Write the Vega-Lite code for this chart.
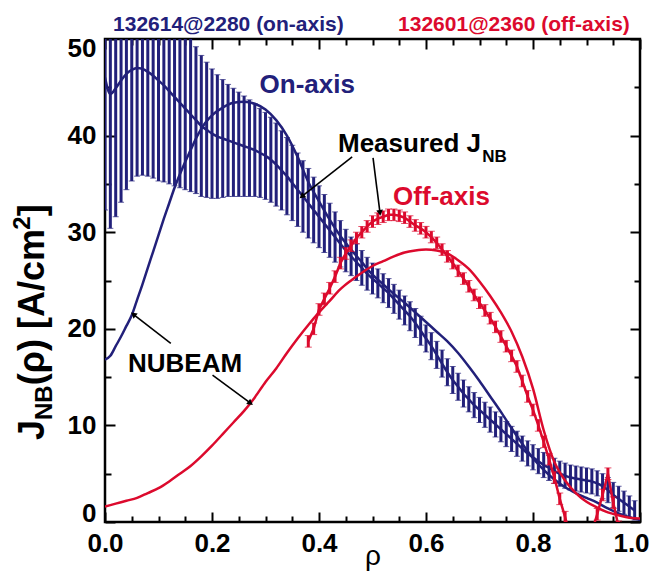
{
  "$schema": "https://vega.github.io/schema/vega-lite/v6.json",
  "width": 535,
  "height": 483,
  "autosize": {"type": "none"},
  "padding": {"left": 105, "top": 39, "right": 9, "bottom": 51},
  "background": "white",
  "config": {
    "view": {"stroke": "black", "strokeWidth": 2.5},
    "font": "Liberation Sans, Arial, sans-serif"
  },
  "datasets": {
    "blueMeas": [
      {"r":0.00,"c":46.0,"e":13.7},{"r":0.01,"c":44.3,"e":13.9},{"r":0.02,"c":44.9,"e":13.3},{"r":0.03,"c":45.7,"e":12.6},{"r":0.04,"c":46.4,"e":12.0},
      {"r":0.05,"c":46.8,"e":11.5},{"r":0.06,"c":47.0,"e":11.2},{"r":0.07,"c":46.9,"e":11.0},{"r":0.08,"c":46.6,"e":10.8},{"r":0.09,"c":46.2,"e":10.6},
      {"r":0.10,"c":45.7,"e":10.4},{"r":0.11,"c":45.2,"e":10.0},{"r":0.12,"c":44.6,"e":9.6},{"r":0.13,"c":44.0,"e":9.2},{"r":0.14,"c":43.4,"e":8.8},
      {"r":0.15,"c":42.8,"e":8.4},{"r":0.16,"c":42.2,"e":8.0},{"r":0.17,"c":41.6,"e":7.6},{"r":0.18,"c":41.0,"e":7.3},{"r":0.19,"c":40.6,"e":7.0},
      {"r":0.20,"c":40.2,"e":6.7},{"r":0.21,"c":39.9,"e":6.4},{"r":0.22,"c":39.7,"e":6.1},{"r":0.23,"c":39.5,"e":5.8},{"r":0.24,"c":39.3,"e":5.6},
      {"r":0.25,"c":39.1,"e":5.4},{"r":0.26,"c":38.9,"e":5.2},{"r":0.27,"c":38.7,"e":5.0},{"r":0.28,"c":38.5,"e":4.8},{"r":0.29,"c":38.2,"e":4.6},
      {"r":0.30,"c":37.9,"e":4.5},{"r":0.31,"c":37.5,"e":4.4},{"r":0.32,"c":37.0,"e":4.3},{"r":0.33,"c":36.4,"e":4.1},{"r":0.34,"c":35.8,"e":4.0},
      {"r":0.35,"c":35.1,"e":3.9},{"r":0.36,"c":34.4,"e":3.8},{"r":0.37,"c":33.7,"e":3.7},{"r":0.38,"c":33.0,"e":3.6},{"r":0.39,"c":32.3,"e":3.4},
      {"r":0.40,"c":31.6,"e":3.2},{"r":0.41,"c":30.9,"e":3.0},{"r":0.42,"c":30.2,"e":2.8},{"r":0.43,"c":29.5,"e":2.6},{"r":0.44,"c":28.8,"e":2.4},
      {"r":0.45,"c":28.1,"e":2.2},{"r":0.46,"c":27.5,"e":2.0},{"r":0.47,"c":26.9,"e":1.9},{"r":0.48,"c":26.3,"e":1.8},{"r":0.49,"c":25.7,"e":1.7},
      {"r":0.50,"c":25.2,"e":1.6},{"r":0.51,"c":24.7,"e":1.5},{"r":0.52,"c":24.2,"e":1.5},{"r":0.53,"c":23.7,"e":1.5},{"r":0.54,"c":23.1,"e":1.5},
      {"r":0.55,"c":22.5,"e":1.5},{"r":0.56,"c":21.9,"e":1.5},{"r":0.57,"c":21.3,"e":1.5},{"r":0.58,"c":20.6,"e":1.5},{"r":0.59,"c":19.8,"e":1.5},
      {"r":0.60,"c":19.0,"e":1.4},{"r":0.61,"c":18.2,"e":1.4},{"r":0.62,"c":17.3,"e":1.4},{"r":0.63,"c":16.4,"e":1.4},{"r":0.64,"c":15.5,"e":1.4},
      {"r":0.65,"c":14.7,"e":1.4},{"r":0.66,"c":14.0,"e":1.4},{"r":0.67,"c":13.3,"e":1.4},{"r":0.68,"c":12.7,"e":1.3},{"r":0.69,"c":12.1,"e":1.3},
      {"r":0.70,"c":11.6,"e":1.3},{"r":0.71,"c":11.1,"e":1.3},{"r":0.72,"c":10.6,"e":1.3},{"r":0.73,"c":10.1,"e":1.3},{"r":0.74,"c":9.6,"e":1.3},
      {"r":0.75,"c":9.1,"e":1.3},{"r":0.76,"c":8.6,"e":1.3},{"r":0.77,"c":8.1,"e":1.3},{"r":0.78,"c":7.6,"e":1.3},{"r":0.79,"c":7.1,"e":1.3},
      {"r":0.80,"c":6.7,"e":1.3},{"r":0.81,"c":6.3,"e":1.3},{"r":0.82,"c":5.9,"e":1.3},{"r":0.83,"c":5.6,"e":1.3},{"r":0.84,"c":5.3,"e":1.3},
      {"r":0.85,"c":5.0,"e":1.3},{"r":0.86,"c":4.8,"e":1.3},{"r":0.87,"c":4.6,"e":1.3},{"r":0.88,"c":4.5,"e":1.3},{"r":0.89,"c":4.4,"e":1.3},
      {"r":0.90,"c":4.3,"e":1.3},{"r":0.91,"c":4.2,"e":1.3},{"r":0.92,"c":4.0,"e":1.3},{"r":0.93,"c":3.7,"e":1.3},{"r":0.94,"c":3.3,"e":1.3},
      {"r":0.95,"c":2.8,"e":1.3},{"r":0.96,"c":2.4,"e":1.3},{"r":0.97,"c":2.0,"e":1.2},{"r":0.98,"c":1.6,"e":1.1},{"r":0.99,"c":1.2,"e":1.0}
    ],
    "redMeas": [
      {"r":0.38,"c":18.7,"e":0.6},{"r":0.39,"c":20.0,"e":0.6},{"r":0.40,"c":22.0,"e":0.6},{"r":0.41,"c":23.1,"e":0.6},{"r":0.42,"c":24.2,"e":0.6},
      {"r":0.43,"c":25.4,"e":0.6},{"r":0.44,"c":26.8,"e":0.6},{"r":0.45,"c":27.8,"e":0.6},{"r":0.46,"c":28.6,"e":0.6},{"r":0.47,"c":29.4,"e":0.6},
      {"r":0.48,"c":30.0,"e":0.6},{"r":0.49,"c":30.6,"e":0.6},{"r":0.50,"c":31.1,"e":0.6},{"r":0.51,"c":31.4,"e":0.6},{"r":0.52,"c":31.6,"e":0.6},
      {"r":0.53,"c":31.8,"e":0.6},{"r":0.54,"c":31.8,"e":0.6},{"r":0.55,"c":31.7,"e":0.6},{"r":0.56,"c":31.5,"e":0.6},{"r":0.57,"c":31.1,"e":0.6},
      {"r":0.58,"c":30.7,"e":0.6},{"r":0.59,"c":30.4,"e":0.6},{"r":0.60,"c":30.0,"e":0.6},{"r":0.61,"c":29.5,"e":0.6},{"r":0.62,"c":28.9,"e":0.6},
      {"r":0.63,"c":28.2,"e":0.6},{"r":0.64,"c":27.5,"e":0.6},{"r":0.65,"c":26.8,"e":0.6},{"r":0.66,"c":26.0,"e":0.6},{"r":0.67,"c":25.2,"e":0.6},
      {"r":0.68,"c":24.4,"e":0.6},{"r":0.69,"c":23.5,"e":0.6},{"r":0.70,"c":22.7,"e":0.6},{"r":0.71,"c":21.9,"e":0.6},{"r":0.72,"c":21.1,"e":0.6},
      {"r":0.73,"c":20.2,"e":0.6},{"r":0.74,"c":19.2,"e":0.6},{"r":0.75,"c":18.2,"e":0.6},{"r":0.76,"c":17.2,"e":0.6},{"r":0.77,"c":16.1,"e":0.6},
      {"r":0.78,"c":14.6,"e":0.6},{"r":0.79,"c":13.0,"e":0.6},{"r":0.80,"c":11.6,"e":0.6},{"r":0.81,"c":10.0,"e":0.6},{"r":0.82,"c":8.3,"e":0.6},
      {"r":0.83,"c":6.5,"e":0.6},{"r":0.84,"c":4.6,"e":0.6},{"r":0.85,"c":2.4,"e":0.6},{"r":0.86,"c":0.5,"e":0.6},{"r":0.87,"c":-1.5,"e":0.6},
      {"r":0.88,"c":-2.5,"e":0.6},{"r":0.89,"c":-3.0,"e":0.6},{"r":0.90,"c":-2.5,"e":0.6},{"r":0.91,"c":-1.0,"e":0.6},{"r":0.92,"c":0.8,"e":0.6},
      {"r":0.93,"c":2.8,"e":0.6},{"r":0.94,"c":5.0,"e":0.6},{"r":0.95,"c":2.0,"e":0.6},{"r":0.96,"c":-0.5,"e":0.6},{"r":0.97,"c":-2.0,"e":0.6}
    ],
    "blueNub": [
      {"r":0.00,"v":16.8},{"r":0.01,"v":17.2},{"r":0.02,"v":18.2},{"r":0.03,"v":19.2},{"r":0.04,"v":20.3},{"r":0.05,"v":21.4},
      {"r":0.06,"v":23.0},{"r":0.07,"v":24.6},{"r":0.08,"v":26.3},{"r":0.09,"v":28.0},{"r":0.10,"v":29.7},{"r":0.11,"v":31.4},
      {"r":0.12,"v":33.0},{"r":0.13,"v":34.6},{"r":0.14,"v":36.0},{"r":0.15,"v":37.3},{"r":0.16,"v":38.5},{"r":0.17,"v":39.7},
      {"r":0.18,"v":40.7},{"r":0.19,"v":41.5},{"r":0.20,"v":42.1},{"r":0.22,"v":42.9},{"r":0.24,"v":43.4},{"r":0.26,"v":43.5},
      {"r":0.28,"v":43.3},{"r":0.30,"v":42.7},{"r":0.32,"v":41.6},{"r":0.34,"v":40.0},{"r":0.36,"v":37.8},{"r":0.38,"v":35.2},
      {"r":0.40,"v":33.2},{"r":0.42,"v":31.3},{"r":0.44,"v":29.6},{"r":0.46,"v":28.2},{"r":0.48,"v":26.9},{"r":0.50,"v":25.6},
      {"r":0.52,"v":24.6},{"r":0.54,"v":23.6},{"r":0.56,"v":22.7},{"r":0.58,"v":21.7},{"r":0.60,"v":20.7},{"r":0.62,"v":19.7},
      {"r":0.64,"v":18.7},{"r":0.66,"v":17.5},{"r":0.68,"v":16.1},{"r":0.70,"v":14.6},{"r":0.72,"v":13.0},{"r":0.74,"v":11.4},
      {"r":0.76,"v":9.7},{"r":0.78,"v":8.1},{"r":0.80,"v":6.6},{"r":0.82,"v":5.4},{"r":0.84,"v":4.4},{"r":0.86,"v":3.6},
      {"r":0.88,"v":3.0},{"r":0.90,"v":2.5},{"r":0.92,"v":2.0},{"r":0.94,"v":1.4},{"r":0.96,"v":0.9},{"r":0.98,"v":0.5},{"r":1.00,"v":0.2}
    ],
    "redNub": [
      {"r":0.00,"v":1.6},{"r":0.02,"v":1.9},{"r":0.04,"v":2.2},{"r":0.06,"v":2.5},{"r":0.08,"v":3.0},{"r":0.10,"v":3.5},
      {"r":0.12,"v":4.2},{"r":0.14,"v":5.0},{"r":0.16,"v":5.8},{"r":0.18,"v":6.8},{"r":0.20,"v":7.9},{"r":0.22,"v":9.1},
      {"r":0.24,"v":10.3},{"r":0.26,"v":11.5},{"r":0.28,"v":12.9},{"r":0.30,"v":14.5},{"r":0.32,"v":15.9},{"r":0.34,"v":17.5},
      {"r":0.36,"v":19.0},{"r":0.38,"v":20.4},{"r":0.40,"v":21.7},{"r":0.42,"v":22.9},{"r":0.44,"v":24.1},{"r":0.46,"v":25.0},
      {"r":0.48,"v":25.8},{"r":0.50,"v":26.5},{"r":0.52,"v":27.0},{"r":0.54,"v":27.5},{"r":0.56,"v":27.9},{"r":0.58,"v":28.1},
      {"r":0.60,"v":28.2},{"r":0.62,"v":28.1},{"r":0.64,"v":27.8},{"r":0.66,"v":27.1},{"r":0.68,"v":26.2},{"r":0.70,"v":24.9},
      {"r":0.72,"v":23.4},{"r":0.74,"v":21.7},{"r":0.76,"v":19.7},{"r":0.78,"v":17.1},{"r":0.80,"v":13.8},{"r":0.82,"v":9.5},
      {"r":0.84,"v":6.2},{"r":0.86,"v":4.3},{"r":0.88,"v":3.0},{"r":0.90,"v":2.1},{"r":0.92,"v":1.5},{"r":0.94,"v":1.0},
      {"r":0.96,"v":0.7},{"r":0.98,"v":0.45},{"r":1.00,"v":0.35}
    ],
    "arrows": [
      {"x":0.462,"y":37.8,"x2":0.368,"y2":33.7},
      {"x":0.501,"y":37.7,"x2":0.514,"y2":32.0},
      {"x":0.123,"y":18.5,"x2":0.053,"y2":21.5},
      {"x":0.201,"y":15.2,"x2":0.272,"y2":12.3}
    ]
  },
  "resolve": {"axis": {"x": "independent", "y": "independent"}},
  "layer": [
    {
      "data": {"name": "blueMeas"},
      "mark": {"type": "errorbar", "clip": true, "color": "#22207a", "ticks": {"size": 6, "strokeWidth": 3, "color": "#22207a"}, "rule": {"strokeWidth": 3, "color": "#22207a"}},
      "encoding": {
        "x": {"field": "r", "type": "quantitative", "scale": {"domain": [0, 1], "nice": false}, "axis": null},
        "y": {"field": "c", "type": "quantitative", "scale": {"domain": [0, 50], "nice": false}, "axis": null},
        "yError": {"field": "e"}
      }
    },
    {
      "data": {"name": "blueMeas"},
      "mark": {"type": "line", "clip": true, "color": "#22207a", "strokeWidth": 2.5, "interpolate": "monotone"},
      "encoding": {
        "x": {"field": "r", "type": "quantitative", "scale": {"domain": [0, 1], "nice": false},
          "axis": {"orient": "bottom", "values": [0, 0.2, 0.4, 0.6, 0.8, 1], "format": ".1f", "domain": false, "grid": false,
            "tickSize": -10, "tickWidth": 2, "tickColor": "black", "labelFontSize": 26, "labelFontWeight": "bold", "labelColor": "black",
            "labelPadding": 18, "labelFlush": false,
            "labelOffset": {"condition": {"test": "datum.value == 1", "value": -9}, "value": 0},
            "title": "ρ", "titleFontSize": 28, "titleFontWeight": "normal", "titleColor": "black",
            "titleBaseline": "alphabetic", "titleY": 42}},
        "y": {"field": "c", "type": "quantitative", "scale": {"domain": [0, 50], "nice": false},
          "axis": {"orient": "left", "values": [0, 10, 20, 30, 40, 50], "domain": false, "grid": false,
            "tickSize": -10, "tickWidth": 2, "tickColor": "black", "labelFontSize": 26, "labelFontWeight": "bold", "labelColor": "black",
            "labelPadding": 19, "labelFlush": true, "labelFlushOffset": 4, "title": null}}
      }
    },
    {
      "data": {"name": "blueNub"},
      "mark": {"type": "line", "clip": true, "color": "#22207a", "strokeWidth": 2.5, "interpolate": "monotone"},
      "encoding": {
        "x": {"field": "r", "type": "quantitative", "scale": {"domain": [0, 1], "nice": false},
          "axis": {"orient": "bottom", "values": [0.05,0.1,0.15,0.25,0.3,0.35,0.45,0.5,0.55,0.65,0.7,0.75,0.85,0.9,0.95], "domain": false, "grid": false,
            "tickSize": -6, "tickWidth": 2, "tickColor": "black", "labels": false, "title": null}},
        "y": {"field": "v", "type": "quantitative", "scale": {"domain": [0, 50], "nice": false},
          "axis": {"orient": "left", "values": [5, 15, 25, 35, 45], "domain": false, "grid": false,
            "tickSize": -6, "tickWidth": 2, "tickColor": "black", "labels": false, "title": null}}
      }
    },
    {
      "data": {"name": "redNub"},
      "mark": {"type": "line", "clip": true, "color": "#dc0a2d", "strokeWidth": 2.5, "interpolate": "monotone"},
      "encoding": {
        "x": {"field": "r", "type": "quantitative", "scale": {"domain": [0, 1], "nice": false},
          "axis": {"orient": "top", "values": [0, 0.2, 0.4, 0.6, 0.8, 1], "domain": false, "grid": false,
            "tickSize": -10, "tickWidth": 2, "tickColor": "black", "labels": false, "title": null}},
        "y": {"field": "v", "type": "quantitative", "scale": {"domain": [0, 50], "nice": false},
          "axis": {"orient": "right", "values": [0, 10, 20, 30, 40, 50], "domain": false, "grid": false,
            "tickSize": -10, "tickWidth": 2, "tickColor": "black", "labels": false, "title": null}}
      }
    },
    {
      "data": {"name": "redMeas"},
      "mark": {"type": "errorbar", "clip": true, "color": "#dc0a2d", "ticks": {"size": 7, "strokeWidth": 3, "color": "#dc0a2d"}, "rule": {"strokeWidth": 3, "color": "#dc0a2d"}},
      "encoding": {
        "x": {"field": "r", "type": "quantitative", "scale": {"domain": [0, 1], "nice": false}, "axis": null},
        "y": {"field": "c", "type": "quantitative", "scale": {"domain": [0, 50], "nice": false}, "axis": null},
        "yError": {"field": "e"}
      }
    },
    {
      "data": {"name": "redMeas"},
      "mark": {"type": "line", "clip": true, "color": "#dc0a2d", "strokeWidth": 2.5},
      "encoding": {
        "x": {"field": "r", "type": "quantitative", "scale": {"domain": [0, 1], "nice": false},
          "axis": {"orient": "top", "values": [0.05,0.1,0.15,0.25,0.3,0.35,0.45,0.5,0.55,0.65,0.7,0.75,0.85,0.9,0.95], "domain": false, "grid": false,
            "tickSize": -6, "tickWidth": 2, "tickColor": "black", "labels": false, "title": null}},
        "y": {"field": "c", "type": "quantitative", "scale": {"domain": [0, 50], "nice": false},
          "axis": {"orient": "right", "values": [5, 15, 25, 35, 45], "domain": false, "grid": false,
            "tickSize": -6, "tickWidth": 2, "tickColor": "black", "labels": false, "title": null}}
      }
    },
    {
      "data": {"name": "arrows"},
      "mark": {"type": "rule", "color": "black", "strokeWidth": 1.6},
      "encoding": {
        "x": {"field": "x", "type": "quantitative", "axis": null},
        "y": {"field": "y", "type": "quantitative", "axis": null},
        "x2": {"field": "x2"},
        "y2": {"field": "y2"}
      }
    },
    {
      "data": {"values": [{"x": 0.368, "y": 33.7}]},
      "mark": {"type": "point", "shape": "triangle-up", "filled": true, "color": "black", "size": 45, "angle": 231, "opacity": 1},
      "encoding": {"x": {"field": "x", "type": "quantitative", "axis": null}, "y": {"field": "y", "type": "quantitative", "axis": null}}
    },
    {
      "data": {"values": [{"x": 0.514, "y": 32.0}]},
      "mark": {"type": "point", "shape": "triangle-up", "filled": true, "color": "black", "size": 45, "angle": 173, "opacity": 1},
      "encoding": {"x": {"field": "x", "type": "quantitative", "axis": null}, "y": {"field": "y", "type": "quantitative", "axis": null}}
    },
    {
      "data": {"values": [{"x": 0.053, "y": 21.5}]},
      "mark": {"type": "point", "shape": "triangle-up", "filled": true, "color": "black", "size": 45, "angle": 308, "opacity": 1},
      "encoding": {"x": {"field": "x", "type": "quantitative", "axis": null}, "y": {"field": "y", "type": "quantitative", "axis": null}}
    },
    {
      "data": {"values": [{"x": 0.272, "y": 12.3}]},
      "mark": {"type": "point", "shape": "triangle-up", "filled": true, "color": "black", "size": 45, "angle": 127, "opacity": 1},
      "encoding": {"x": {"field": "x", "type": "quantitative", "axis": null}, "y": {"field": "y", "type": "quantitative", "axis": null}}
    },
    {
      "data": {"values": [{"x": 0.378, "y": 44.4, "t": "On-axis"}]},
      "mark": {"type": "text", "align": "center", "baseline": "alphabetic", "fontSize": 26, "fontWeight": "bold", "color": "#22207a"},
      "encoding": {"x": {"field": "x", "type": "quantitative", "axis": null}, "y": {"field": "y", "type": "quantitative", "axis": null}, "text": {"field": "t"}}
    },
    {
      "data": {"values": [{"x": 0.629, "y": 32.8, "t": "Off-axis"}]},
      "mark": {"type": "text", "align": "center", "baseline": "alphabetic", "fontSize": 26, "fontWeight": "bold", "color": "#dc0a2d"},
      "encoding": {"x": {"field": "x", "type": "quantitative", "axis": null}, "y": {"field": "y", "type": "quantitative", "axis": null}, "text": {"field": "t"}}
    },
    {
      "data": {"values": [{"x": 0.4355, "y": 38.3, "t": "Measured J"}, {"x": 0.043, "y": 15.5, "t": "NUBEAM"}]},
      "mark": {"type": "text", "align": "left", "baseline": "alphabetic", "fontSize": 26, "fontWeight": "bold", "color": "black"},
      "encoding": {"x": {"field": "x", "type": "quantitative", "axis": null}, "y": {"field": "y", "type": "quantitative", "axis": null}, "text": {"field": "t"}}
    },
    {
      "data": {"values": [{"x": 0.705, "y": 37.3, "t": "NB"}]},
      "mark": {"type": "text", "align": "left", "baseline": "alphabetic", "fontSize": 17, "fontWeight": "bold", "color": "black"},
      "encoding": {"x": {"field": "x", "type": "quantitative", "axis": null}, "y": {"field": "y", "type": "quantitative", "axis": null}, "text": {"field": "t"}}
    },
    {
      "data": {"values": [{"x": 0.015, "y": 50.8, "t": "132614@2280 (on-axis)"}]},
      "mark": {"type": "text", "align": "left", "baseline": "alphabetic", "fontSize": 21, "fontWeight": "bold", "color": "#22207a"},
      "encoding": {"x": {"field": "x", "type": "quantitative", "axis": null}, "y": {"field": "y", "type": "quantitative", "axis": null}, "text": {"field": "t"}}
    },
    {
      "data": {"values": [{"x": 0.981, "y": 50.8, "t": "132601@2360 (off-axis)"}]},
      "mark": {"type": "text", "align": "right", "baseline": "alphabetic", "fontSize": 21, "fontWeight": "bold", "color": "#dc0a2d"},
      "encoding": {"x": {"field": "x", "type": "quantitative", "axis": null}, "y": {"field": "y", "type": "quantitative", "axis": null}, "text": {"field": "t"}}
    },
    {
      "data": {"values": [{"x": -0.114, "y": 8.49, "t": "J"}, {"x": -0.114, "y": 14.15, "t": "(ρ) [A/cm"}, {"x": -0.114, "y": 31.64, "t": "]"}]},
      "mark": {"type": "text", "align": "left", "baseline": "alphabetic", "angle": 270, "fontSize": 36, "fontWeight": "bold", "color": "black"},
      "encoding": {"x": {"field": "x", "type": "quantitative", "axis": null}, "y": {"field": "y", "type": "quantitative", "axis": null}, "text": {"field": "t"}}
    },
    {
      "data": {"values": [{"x": -0.099, "y": 10.56, "t": "NB"}]},
      "mark": {"type": "text", "align": "left", "baseline": "alphabetic", "angle": 270, "fontSize": 24, "fontWeight": "bold", "color": "black"},
      "encoding": {"x": {"field": "x", "type": "quantitative", "axis": null}, "y": {"field": "y", "type": "quantitative", "axis": null}, "text": {"field": "t"}}
    },
    {
      "data": {"values": [{"x": -0.140, "y": 30.26, "t": "2"}]},
      "mark": {"type": "text", "align": "left", "baseline": "alphabetic", "angle": 270, "fontSize": 24, "fontWeight": "bold", "color": "black"},
      "encoding": {"x": {"field": "x", "type": "quantitative", "axis": null}, "y": {"field": "y", "type": "quantitative", "axis": null}, "text": {"field": "t"}}
    }
  ]
}
